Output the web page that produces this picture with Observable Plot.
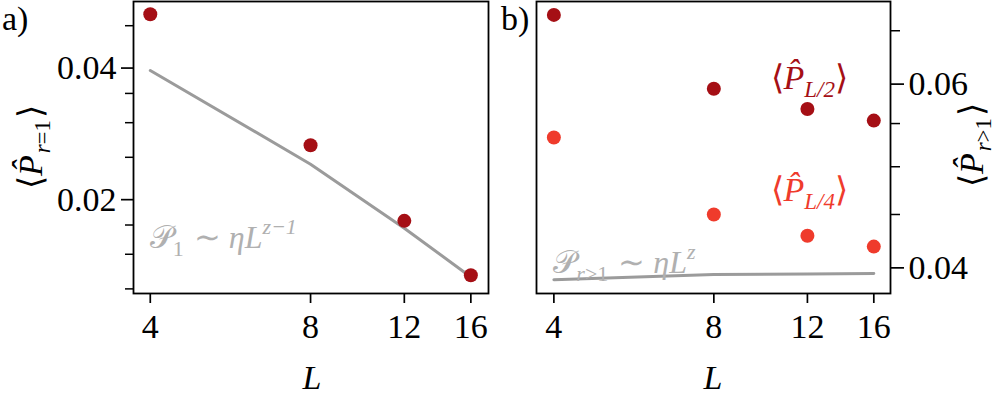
<!DOCTYPE html>
<html>
<head>
<meta charset="utf-8">
<script src="https://cdn.jsdelivr.net/npm/d3@7"></script>
<script src="https://cdn.jsdelivr.net/npm/@observablehq/plot@0.6"></script>
<style>
  html, body { margin: 0; padding: 0; background: #ffffff; }
  #wrap { position: relative; width: 997px; height: 401px; overflow: hidden; background: #fff; }
  #wrap svg { position: absolute; top: 0; margin: 0; }
</style>
</head>
<body>
<div id="wrap"></div>
<script>
// ---- data ----
const L = [4, 8, 12, 16];
const P_r1 = [0.0531, 0.02664, 0.01789, 0.01343];
const fit_r1 = [0.0395, 0.02411, 0.01721, 0.01331];
const P_L2 = [0.0699, 0.0594, 0.0568, 0.05536];
const P_L4 = [0.05334, 0.0450, 0.04294, 0.04192];
const fit_rgt1 = [0.03897, 0.03942, 0.03947, 0.0395];
const xTicks = [4, 8, 12, 16];
const yTicksLeft = [0.02, 0.04];
const yMinorLeft = [0.0125, 0.015, 0.0175, 0.025, 0.03, 0.035, 0.05];
const yTicksRight = [0.04, 0.06];
const yMinorRight = [0.045, 0.05, 0.055, 0.0675];

const dark = "#a50f15", light = "#ef3b2c", gray = "#9b9b9b", grayText = "#b0b0b0";
const FONT = "Liberation Serif, serif";

const rows = (ys) => L.map((l, i) => ({L: l, v: ys[i]}));

const wrap = document.getElementById("wrap");

const common = {
  height: 401, marginTop: 1, marginBottom: 108,
  style: {fontFamily: FONT, fontSize: "34px", background: "transparent", color: "black", overflow: "visible"}
};

const left = Plot.plot({
  ...common,
  width: 500, marginLeft: 133, marginRight: 12,
  x: {type: "log", domain: [3.72, 17.27]},
  y: {type: "log", domain: [0.0122, 0.0568]},
  marks: [
    Plot.axisX({ticks: xTicks, tickSize: 10, tickPadding: 10, tickFormat: d => String(d), label: null, strokeWidth: 1.7}),
    Plot.axisY({ticks: yTicksLeft, tickSize: 12, tickPadding: 5, tickFormat: d3.format(".2f"), label: null, strokeWidth: 1.7}),
    Plot.axisY({ticks: yMinorLeft, tickSize: 8, tickFormat: () => "", label: null, strokeWidth: 1.5}),
    Plot.line(rows(fit_r1), {x: "L", y: "v", stroke: gray, strokeWidth: 3}),
    Plot.dot(rows(P_r1), {x: "L", y: "v", r: 7, fill: dark, stroke: "none"}),
    Plot.frame({stroke: "black", strokeWidth: 1.8})
  ]
});
left.style.left = "0px";
wrap.appendChild(left);

const right = Plot.plot({
  ...common,
  width: 500, marginLeft: 39, marginRight: 107,
  x: {type: "log", domain: [3.71, 17.2]},
  y: {type: "log", domain: [0.0378, 0.0720]},
  marks: [
    Plot.axisX({ticks: xTicks, tickSize: 10, tickPadding: 10, tickFormat: d => String(d), label: null, strokeWidth: 1.7}),
    Plot.axisY({anchor: "right", ticks: yTicksRight, tickSize: 13, tickPadding: 5, tickFormat: d3.format(".2f"), label: null, strokeWidth: 1.7}),
    Plot.axisY({anchor: "right", ticks: yMinorRight, tickSize: 9, tickFormat: () => "", label: null, strokeWidth: 1.5}),
    Plot.line(rows(fit_rgt1), {x: "L", y: "v", stroke: gray, strokeWidth: 3}),
    Plot.dot(rows(P_L2), {x: "L", y: "v", r: 7, fill: dark, stroke: "none"}),
    Plot.dot(rows(P_L4), {x: "L", y: "v", r: 7, fill: light, stroke: "none"}),
    Plot.frame({stroke: "black", strokeWidth: 1.8})
  ]
});
right.style.left = "497px";
wrap.appendChild(right);

for (const svg of [left, right]) {
  d3.select(svg).selectAll("text").attr("font-family", FONT);
}

// ---- overlay text (labels & annotations) ----
const ov = d3.select(wrap).append("svg")
  .attr("width", 997).attr("height", 401)
  .style("left", "0px").style("top", "0px")
  .attr("font-family", FONT);

// parts: {t, it (italic), sub, sup}
function mathText(x, y, parts, opts = {}) {
  const size = opts.size || 32;
  const t = ov.append("text")
    .attr("x", x).attr("y", y)
    .attr("fill", opts.color || "black")
    .attr("font-size", size)
    .attr("font-family", FONT)
    .attr("text-anchor", opts.anchor || "start");
  if (opts.transform) t.attr("transform", opts.transform).attr("x", 0).attr("y", 0);
  let shift = 0;
  for (const p of parts) {
    const target = p.sub ? (opts.subShift || 8) : p.sup ? -(opts.supShift || 14) : 0;
    const s = t.append("tspan").text(p.t)
      .attr("font-style", p.it ? "italic" : "normal")
      .attr("font-size", p.sub || p.sup ? Math.round(size * 0.68) : size);
    if (target !== shift) { s.attr("dy", target - shift); shift = target; }
    if (p.dx) s.attr("dx", p.dx);
  }
  return t;
}
function plain(x, y, s, opts = {}) {
  return ov.append("text").attr("x", x).attr("y", y).attr("font-size", opts.size || 34)
    .attr("font-family", FONT)
    .attr("font-style", opts.it ? "italic" : "normal")
    .attr("text-anchor", opts.anchor || "start").text(s);
}

// panel letters
plain(2, 30, "a)");
plain(501, 30, "b)");

// x labels
plain(312, 389, "L", {it: true, anchor: "middle"});
plain(713, 389, "L", {it: true, anchor: "middle"});

// y labels
mathText(0, 0, [{t: "\u27E8"}, {t: "P\u0302", it: true}, {t: "r", it: true, sub: true, dx: 2}, {t: "=1", sub: true}, {t: "\u27E9", dx: 2}],
  {size: 34, anchor: "middle", transform: "translate(42,147) rotate(-90)"});
mathText(0, 0, [{t: "\u27E8"}, {t: "P\u0302", it: true}, {t: "r", it: true, sub: true, dx: 2}, {t: ">1", sub: true}, {t: "\u27E9", dx: 2}],
  {size: 34, anchor: "middle", transform: "translate(983,145) rotate(-90)"});

// annotations (placed in data coordinates through the panels' scales)
const lx = left.scale("x"), ly = left.scale("y");
const rx = right.scale("x"), ry = right.scale("y");
const R0 = 497;
mathText(lx.apply(4), ly.apply(0.01545),
  [{t: "\uD835\uDCAB"}, {t: "1", sub: true}, {t: " \u223C ", dx: 2}, {t: "\u03B7L", it: true}, {t: "z\u22121", it: true, sup: true}],
  {size: 32, color: grayText});
mathText(R0 + rx.apply(4), ry.apply(0.0395),
  [{t: "\uD835\uDCAB"}, {t: "r", it: true, sub: true}, {t: ">1", sub: true}, {t: " \u223C ", dx: 2}, {t: "\u03B7L", it: true}, {t: "z", it: true, sup: true}],
  {size: 32, color: grayText});
mathText(R0 + rx.apply(10.25), ry.apply(0.0593),
  [{t: "\u27E8"}, {t: "P\u0302", it: true}, {t: "L/2", it: true, sub: true}, {t: "\u27E9"}],
  {size: 34, color: dark});
mathText(R0 + rx.apply(10.25), ry.apply(0.0463),
  [{t: "\u27E8"}, {t: "P\u0302", it: true}, {t: "L/4", it: true, sub: true}, {t: "\u27E9"}],
  {size: 34, color: light});
</script>
</body>
</html>
